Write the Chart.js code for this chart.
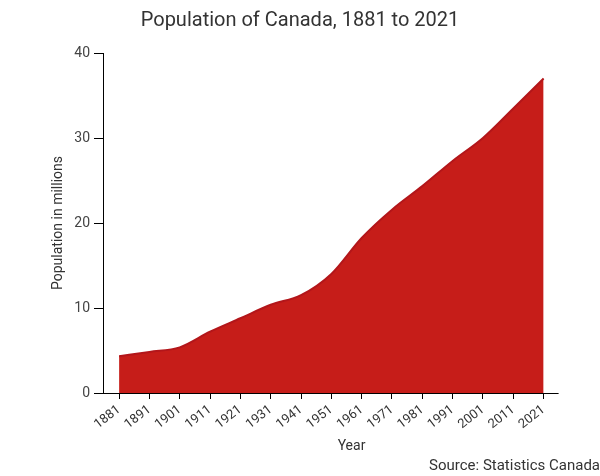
<!DOCTYPE html>
<html>
<head>
<meta charset="utf-8">
<script src="https://cdn.jsdelivr.net/npm/chart.js@4"></script>
<style>
  html, body { margin: 0; padding: 0; background: #fff; }
  #wrap { width: 600px; height: 476px; }
</style>
</head>
<body>
<div id="wrap"><canvas id="chart" width="600" height="476"></canvas></div>
<script>
// census years and population in millions
const years = [1881, 1891, 1901, 1911, 1921, 1931, 1941, 1951, 1961, 1971, 1981, 1991, 2001, 2011, 2021];
const population = [4.32, 4.83, 5.37, 7.21, 8.79, 10.38, 11.51, 14.01, 18.24, 21.57, 24.34, 27.30, 30.01, 33.48, 36.99];
const yTicks = [0, 10, 20, 30, 40];

const textColor = '#333';
const fontFamily = 'Roboto, "Noto Sans", sans-serif';

// x axis line runs a little past both ends, like the original
const xAxisLine = {
    id: 'xAxisLine',
    afterDraw(chart) {
        const ctx = chart.ctx;
        const area = chart.chartArea;
        const x = chart.scales.x;
        ctx.save();
        ctx.strokeStyle = '#000';
        ctx.lineWidth = 1;
        ctx.beginPath();
        ctx.moveTo(area.left - 9, area.bottom + 0.5);
        ctx.lineTo(x.getPixelForValue(years[years.length - 1]) + 15, area.bottom + 0.5);
        ctx.stroke();
        ctx.restore();
    }
};

const ctx = document.getElementById('chart').getContext('2d');
new Chart(ctx, {
    type: 'line',
    data: {
        datasets: [{
            label: 'Population',
            data: years.map((y, i) => ({ x: y, y: population[i] })),
            borderColor: '#b3161a',
            borderWidth: 2,
            backgroundColor: '#c61d19',
            fill: 'origin',
            pointRadius: 0,
            cubicInterpolationMode: 'monotone'
        }]
    },
    options: {
        responsive: false,
        animation: false,
        layout: { padding: 0 },
        plugins: {
            legend: { display: false },
            tooltip: { enabled: false },
            title: {
                display: true,
                text: 'Population of Canada, 1881 to 2021',
                color: textColor,
                font: { family: fontFamily, size: 20, weight: 'normal' },
                padding: { top: 9, bottom: 20 }
            },
            subtitle: {
                display: true,
                position: 'bottom',
                align: 'end',
                text: 'Source: Statistics Canada',
                color: textColor,
                font: { family: fontFamily, size: 15, weight: 'normal' },
                padding: { top: 4, bottom: 1 }
            }
        },
        scales: {
            x: {
                type: 'linear',
                min: 1875.7,
                max: 2039.6,
                afterBuildTicks: scale => { scale.ticks = years.map(v => ({ value: v })); },
                afterFit: scale => { scale.height = 60; },
                border: { display: false },
                grid: { drawOnChartArea: false, drawTicks: true, tickLength: 6, color: '#000' },
                ticks: {
                    autoSkip: false,
                    minRotation: 38,
                    maxRotation: 38,
                    padding: 3,
                    color: textColor,
                    font: { family: fontFamily, size: 13 },
                    callback: v => String(v)
                },
                title: {
                    display: true,
                    text: 'Year',
                    color: textColor,
                    font: { family: fontFamily, size: 14 },
                    padding: { top: 0, bottom: -2 }
                }
            },
            y: {
                min: 0,
                max: 40,
                afterBuildTicks: scale => { scale.ticks = yTicks.map(v => ({ value: v })); },
                afterFit: scale => { scale.width = 103; },
                border: { display: true, color: '#000', width: 1 },
                grid: { drawOnChartArea: false, drawTicks: true, tickLength: 9, color: '#000' },
                ticks: {
                    padding: 4,
                    color: '#444',
                    font: { family: fontFamily, size: 14 }
                },
                title: {
                    display: true,
                    text: 'Population in millions',
                    color: textColor,
                    font: { family: fontFamily, size: 14 },
                    padding: { top: 50, bottom: 0 }
                }
            }
        }
    },
    plugins: [xAxisLine]
});
</script>
</body>
</html>
